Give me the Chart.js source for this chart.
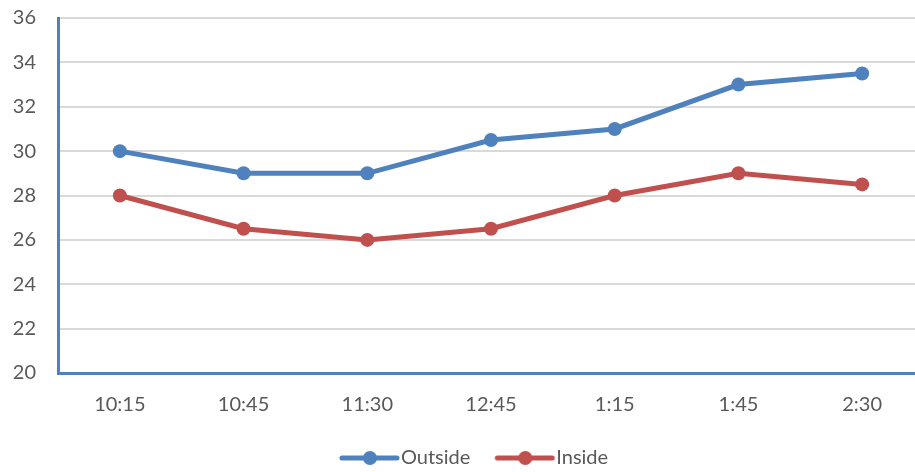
<!DOCTYPE html>
<html>
<head>
<meta charset="utf-8">
<script src="https://cdn.jsdelivr.net/npm/chart.js@4"></script>
<style>
  html, body { margin: 0; padding: 0; background: #fff; overflow: hidden; }
  #wrap { width: 931px; height: 472px; }
</style>
</head>
<body>
<div id="wrap"><canvas id="c" width="931" height="472"></canvas></div>
<script>
// Temperature readings over the afternoon
const times = ['10:15', '10:45', '11:30', '12:45', '1:15', '1:45', '2:30'];
const outside = [30, 29, 29, 30.5, 31, 33, 33.5];
const inside = [28, 26.5, 26, 26.5, 28, 29, 28.5];
const yTicks = [20, 22, 24, 26, 28, 30, 32, 34, 36];

const BLUE = '#4f81bd';
const RED = '#c0504d';
const TEXT = '#595959';
const FONT = 'Lato, "Open Sans", sans-serif';
const FONT_SIZE = 20;

// Legend marker: a short line with a dot in the middle
function legendMarker(color) {
  const w = 82, h = 16;
  const cv = document.createElement('canvas');
  cv.width = w; cv.height = h;
  const g = cv.getContext('2d');
  g.strokeStyle = color;
  g.lineWidth = 5;
  g.lineCap = 'round';
  g.beginPath();
  g.moveTo(24, h / 2);
  g.lineTo(79, h / 2);
  g.stroke();
  g.fillStyle = color;
  g.beginPath();
  g.arc(52, h / 2, 7, 0, Math.PI * 2);
  g.fill();
  return cv;
}
const markers = { Outside: legendMarker(BLUE), Inside: legendMarker(RED) };

// Nudge the legend block a little right and down
const legendOffset = {
  id: 'legendOffset',
  afterLayout(chart) {
    const l = chart.legend;
    if (!l) return;
    l.left += 2; l.right += 2;
    l.top += 6; l.bottom += 6;
  }
};

new Chart(document.getElementById('c'), {
  type: 'line',
  data: {
    labels: times,
    datasets: [
      {
        label: 'Outside', data: outside,
        borderColor: BLUE, backgroundColor: BLUE,
        borderWidth: 5, pointRadius: 7, pointHoverRadius: 7,
        pointBorderWidth: 0, tension: 0
      },
      {
        label: 'Inside', data: inside,
        borderColor: RED, backgroundColor: RED,
        borderWidth: 5, pointRadius: 7, pointHoverRadius: 7,
        pointBorderWidth: 0, tension: 0
      }
    ]
  },
  plugins: [legendOffset],
  options: {
    responsive: false,
    animation: false,
    layout: { padding: { top: 18, left: 0, right: 0, bottom: 0 } },
    plugins: {
      tooltip: { enabled: false },
      legend: {
        position: 'bottom',
        labels: {
          usePointStyle: true,
          pointStyleWidth: 64,
          boxHeight: 16,
          padding: 12,
          color: TEXT,
          font: { family: FONT, size: FONT_SIZE },
          generateLabels(chart) {
            return chart.data.datasets.map((ds, i) => ({
              text: ds.label,
              fillStyle: ds.borderColor,
              strokeStyle: ds.borderColor,
              lineWidth: 0,
              pointStyle: markers[ds.label],
              fontColor: TEXT,
              datasetIndex: i,
              hidden: false
            }));
          }
        }
      }
    },
    scales: {
      x: {
        offset: true,
        grid: { display: false, drawTicks: false },
        border: { display: true, color: BLUE, width: 3 },
        ticks: { color: TEXT, font: { family: FONT, size: FONT_SIZE }, padding: 20 },
        afterFit(s) { s.height = 57; s.paddingLeft = 0; s.paddingRight = 0; }
      },
      y: {
        min: 20, max: 36,
        afterBuildTicks(s) { s.ticks = yTicks.map(v => ({ value: v })); },
        grid: {
          drawTicks: false,
          lineWidth: 2,
          color: ctx => (ctx.tick && ctx.tick.value === 20 ? 'rgba(0,0,0,0)' : '#d9d9d9')
        },
        border: { display: true, color: BLUE, width: 3 },
        ticks: { color: TEXT, font: { family: FONT, size: FONT_SIZE }, padding: 22 },
        afterFit(s) { s.width = 58; s.paddingTop = 0; s.paddingBottom = 0; }
      }
    }
  }
});
</script>
</body>
</html>
